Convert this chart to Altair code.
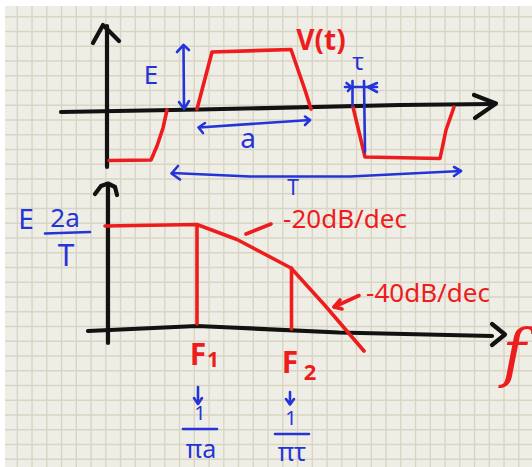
import altair as alt
import numpy as np
import pandas as pd

W, H = 532, 467

# ---- hand-drawn strokes, in page units (x right, y down) ----
# black axes
top_v_axis = [(107, 167), (107, 26)]
top_v_head = [(93, 43), (103, 25), (119, 41)]
top_h_axis = [(61, 112), (200, 109.5), (400, 105), (492, 104)]
top_h_head = [(474, 95), (496, 103.5), (475, 118)]
bot_v_axis = [(108, 343), (108, 185)]
bot_v_head = [(95, 194), (101, 186), (108, 183.5), (115, 187), (117, 195)]
bot_h_axis = [(88, 331), (197, 326), (231, 327.5), (339, 332.5), (492, 336)]
bot_h_head = [(492, 324), (505, 334.5), (492, 345)]

# red: the periodic trapezoid v(t) and its asymptotic spectrum
pulse_neg_left = [(109, 160.5), (151, 160), (157, 146), (163, 128), (167, 110)]
pulse_pos = [(197, 109), (212, 52), (291, 49.5), (305, 90), (311, 109)]
pulse_neg_right = [(353, 107), (365, 157), (440, 158.5), (446, 130), (454, 107)]
spectrum = [(105, 226), (197, 224.5), (237, 239.5), (291, 268), (325, 305.5), (364, 351)]
f1_drop = [(197, 226), (197, 324)]
f2_drop = [(291.5, 268), (291.5, 329)]
lead_20 = [(246, 234), (271, 224)]
lead_40 = [(359, 295.5), (334, 307)]
lead_40_head = [(340, 300), (334, 307), (342, 309)]

# blue: dimension arrows
e_arrow = [(183.5, 46), (184, 109)]
e_head_top = [(177, 52), (183.5, 45), (189, 50)]
e_head_bot = [(179, 102), (184, 109), (189, 101)]
a_arrow = [(199, 127.5), (310, 120)]
a_head_left = [(205, 123), (198.5, 127.5), (203, 133)]
a_head_right = [(305, 116.5), (310, 120), (305, 125)]
t_arrow = [(172, 173), (250, 176.5), (350, 176.5), (461, 171)]
t_head_left = [(178, 166), (171.5, 173.5), (180, 179.5)]
t_head_right = [(454, 167), (461, 171), (454, 176)]
tau_bar = [(345, 87), (377, 87)]
tau_left = [(352.5, 81), (352.5, 106)]
tau_right = [(364, 81), (365, 152)]
tau_head_left = [(346.5, 83), (351.5, 87), (348, 91)]
tau_head_right = [(377, 83), (368, 87), (377, 92)]
f1_arrow = [(198, 387), (198, 403)]
f1_head = [(194, 398), (198, 404), (202, 398)]
f2_arrow = [(290, 392), (290, 404)]
f2_head = [(286, 399), (290, 404.5), (294, 399)]
frac_f1 = [(183, 429), (217, 429)]
frac_f2 = [(275, 434), (309, 434)]
frac_gain = [(45, 233.5), (90, 232)]

black_strokes = [top_v_axis, top_v_head, top_h_axis, top_h_head,
                 bot_v_axis, bot_v_head, bot_h_axis, bot_h_head]
red_strokes = [pulse_neg_left, pulse_pos, pulse_neg_right, spectrum,
               f1_drop, f2_drop, lead_20, lead_40, lead_40_head]
blue_strokes = [e_arrow, e_head_top, e_head_bot, a_arrow, a_head_left,
                a_head_right, t_arrow, t_head_left, t_head_right, tau_bar,
                tau_left, tau_right, tau_head_left, tau_head_right,
                f1_arrow, f1_head, f2_arrow, f2_head, frac_f1, frac_f2, frac_gain]

# ---- labels ----
label_text = ["V(t)", "E", "a", "T", "τ",
              "E", "2a", "T",
              "-20dB/dec", "-40dB/dec",
              "F", "1", "F", "2",
              "1", "πa", "1", "πτ"]
label_x = [321, 151, 248, 293, 358,
           26, 65, 66,
           345, 428,
           198, 213, 290, 310,
           200, 201, 291, 292]
label_y = [42, 76, 140, 189, 63,
           221, 219, 257,
           220, 294,
           356, 361, 364, 373,
           414, 450, 419, 453]
label_size = [28, 26, 28, 21, 24,
              28, 26, 30,
              26, 26,
              30, 21, 30, 22,
              20, 25, 20, 25]
label_weight = ["bold", "normal", "normal", "normal", "normal",
                "normal", "normal", "normal",
                "normal", "normal",
                "bold", "bold", "bold", "bold",
                "normal", "normal", "normal", "normal"]
label_color = ["red", "blue", "blue", "blue", "blue",
               "blue", "blue", "blue",
               "red", "red",
               "red", "red", "red", "red",
               "blue", "blue", "blue", "blue"]

INK = {"black": "#121212", "red": "#ee1d1d", "blue": "#2434d8"}
PEN = {"black": 4.2, "red": 3.6, "blue": 2.6}
PAPER, RULING = "#efeee6", "#d8d5c4"

x_sc = alt.Scale(domain=[0, W], nice=False, zero=False)
y_sc = alt.Scale(domain=[0, H], nice=False, zero=False, reverse=True)

# paper sheet with a thin white margin on the top and left
paper = alt.Chart(pd.DataFrame({"x": [5], "x2": [W], "y": [6], "y2": [H]})).mark_rect(
    color=PAPER
).encode(
    x=alt.X("x:Q", scale=x_sc, axis=None), x2="x2",
    y=alt.Y("y:Q", scale=y_sc, axis=None), y2="y2",
)

# square ruling of the notebook page
step = 14.75
vx = np.arange(17.3, W, step)
hy = np.arange(16.7, H, step)
grid_v = pd.DataFrame({"x": vx, "x2": vx, "y": 6.0, "y2": float(H)})
grid_h = pd.DataFrame({"x": 5.0, "x2": float(W), "y": hy, "y2": hy})
grid = alt.Chart(pd.concat([grid_v, grid_h], ignore_index=True)).mark_rule(
    color=RULING, strokeWidth=1.4
).encode(
    x=alt.X("x:Q", scale=x_sc, axis=None), x2="x2",
    y=alt.Y("y:Q", scale=y_sc, axis=None), y2="y2",
)

rows = []
sid = 0
for ink, strokes in (("black", black_strokes), ("red", red_strokes), ("blue", blue_strokes)):
    for s in strokes:
        for i, (px, py) in enumerate(s):
            rows.append({"sid": sid, "i": i, "x": px, "y": py,
                         "ink": INK[ink], "pen": PEN[ink]})
        sid += 1
strokes_df = pd.DataFrame(rows)

pen = alt.Chart(strokes_df).mark_line(strokeCap="round", strokeJoin="round").encode(
    x=alt.X("x:Q", scale=x_sc, axis=None),
    y=alt.Y("y:Q", scale=y_sc, axis=None),
    detail="sid:N",
    order="i:Q",
    color=alt.Color("ink:N", scale=None),
    strokeWidth=alt.StrokeWidth("pen:Q", scale=None),
)

labels_df = pd.DataFrame({
    "text": label_text, "x": label_x, "y": label_y,
    "size": label_size, "ink": [INK[c] for c in label_color],
    "weight": label_weight,
})


def label_layer(weight):
    return alt.Chart(labels_df).transform_filter(
        alt.datum.weight == weight
    ).mark_text(
        font="Noto Sans", fontWeight=weight, align="center", baseline="middle"
    ).encode(
        x=alt.X("x:Q", scale=x_sc, axis=None),
        y=alt.Y("y:Q", scale=y_sc, axis=None),
        text="text:N",
        size=alt.Size("size:Q", scale=None),
        color=alt.Color("ink:N", scale=None),
    )


# frequency variable at the end of the spectrum axis
f_df = pd.DataFrame({"text": ["f"], "x": [514], "y": [356]})
f_label = alt.Chart(f_df).mark_text(
    font="DejaVu Serif", fontStyle="italic", fontSize=64, color=INK["red"],
    align="center", baseline="middle"
).encode(
    x=alt.X("x:Q", scale=x_sc, axis=None),
    y=alt.Y("y:Q", scale=y_sc, axis=None),
    text="text:N",
)

chart = alt.layer(paper, grid, pen, label_layer("normal"), label_layer("bold"), f_label).properties(
    width=W, height=H, autosize="none", padding=0, background="white"
).configure_view(stroke=None)

chart.save("out.html", embed_options={"renderer": "svg", "actions": False})
